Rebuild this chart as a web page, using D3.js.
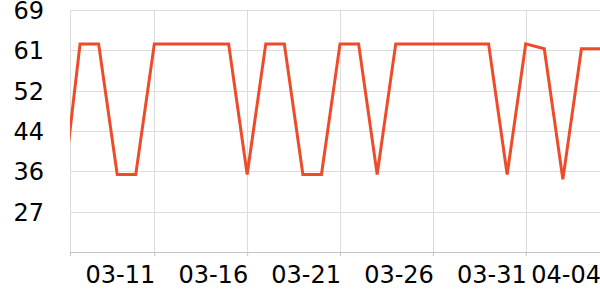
<!DOCTYPE html>
<html>
<head>
<meta charset="utf-8">
<script src="https://cdn.jsdelivr.net/npm/d3@7"></script>
<style>
  html, body { margin: 0; padding: 0; background: #fff; }
  svg text { font-family: "DejaVu Sans", sans-serif; font-size: 24px; fill: #000; }
  path.valueline { fill: none; stroke: #ee4b2b; stroke-width: 3px; stroke-linejoin: miter; }
</style>
</head>
<body>
<svg id="chart"></svg>
<script>
// daily values
var dates = ["2024-03-06", "2024-03-07", "2024-03-08", "2024-03-09", "2024-03-10",
  "2024-03-11", "2024-03-12", "2024-03-13", "2024-03-14", "2024-03-15",
  "2024-03-16", "2024-03-17", "2024-03-18", "2024-03-19", "2024-03-20",
  "2024-03-21", "2024-03-22", "2024-03-23", "2024-03-24", "2024-03-25",
  "2024-03-26", "2024-03-27", "2024-03-28", "2024-03-29", "2024-03-30",
  "2024-03-31", "2024-04-01", "2024-04-02", "2024-04-03", "2024-04-04"];
var values = [29, 62, 62, 35, 35,
  62, 62, 62, 62, 62,
  35, 62, 62, 35, 35,
  62, 62, 35, 62, 62,
  62, 62, 62, 62, 35,
  62, 61, 34, 61, 61];

// visible window and axis ticks
var viewStart = "2024-03-06T11:00";
var viewEnd = "2024-04-04T00:00";
var xTickDates = ["2024-03-11", "2024-03-16", "2024-03-21", "2024-03-26", "2024-03-31", "2024-04-04"];
var yDomain = [19, 69];
var yTickValues = [27.33, 35.67, 44, 52.33, 60.67, 69];

var width = 600, height = 300;
var margin = { top: 10, right: 0, bottom: 48, left: 70 };
var innerW = width - margin.left - margin.right;
var innerH = height - margin.top - margin.bottom;

var parseDay = d3.utcParse("%Y-%m-%d");
var parseTime = d3.utcParse("%Y-%m-%dT%H:%M");
var fmt = d3.utcFormat("%m-%d");

var data = dates.map(function (d, i) { return { date: parseDay(d), value: values[i] }; });

var svg = d3.select("#chart")
  .attr("width", width)
  .attr("height", height);

var g = svg.append("g")
  .attr("transform", "translate(" + margin.left + "," + margin.top + ")");

// set the ranges
var x = d3.scaleUtc()
  .domain([parseTime(viewStart), parseTime(viewEnd)])
  .range([0, innerW]);
var y = d3.scaleLinear().domain(yDomain).range([innerH, 0]);

// horizontal grid
g.append("g")
  .selectAll("line")
  .data(yTickValues)
  .enter().append("line")
  .attr("x1", 0).attr("x2", innerW)
  .attr("y1", function (d) { return Math.round(y(d)) + 0.5; })
  .attr("y2", function (d) { return Math.round(y(d)) + 0.5; })
  .attr("stroke", "#dcdcdc");

// vertical grid (skip the right-edge tick)
var gridDates = xTickDates.slice(0, -1).map(parseDay);
g.append("g")
  .selectAll("line")
  .data(gridDates)
  .enter().append("line")
  .attr("x1", function (d) { return Math.round(x(d)) + 0.5; })
  .attr("x2", function (d) { return Math.round(x(d)) + 0.5; })
  .attr("y1", 0).attr("y2", innerH)
  .attr("stroke", "#dcdcdc");

// left axis line
g.append("line")
  .attr("x1", 0.5).attr("x2", 0.5)
  .attr("y1", 0).attr("y2", innerH)
  .attr("stroke", "#dcdcdc");

// Y labels
g.append("g")
  .selectAll("text")
  .data(yTickValues)
  .enter().append("text")
  .attr("x", -26)
  .attr("y", function (d) { return y(d); })
  .attr("dy", "0.38em")
  .attr("text-anchor", "end")
  .text(function (d) { return d3.format(".0f")(d); });

// X axis
var xAxis = g.append("g")
  .attr("transform", "translate(0," + innerH + ")")
  .call(d3.axisBottom(x)
    .tickValues([x.domain()[0]].concat(gridDates))
    .tickSizeInner(4)
    .tickSizeOuter(0)
    .tickFormat(""));
xAxis.select(".domain").attr("stroke", "#c4c4c4");
xAxis.selectAll(".tick line").attr("stroke", "#c4c4c4");

g.append("g")
  .selectAll("text")
  .data(xTickDates.map(parseDay))
  .enter().append("text")
  .attr("x", function (d) { return x(d) + 1; })
  .attr("y", innerH + 31)
  .attr("text-anchor", "end")
  .text(function (d) { return fmt(d); });

// clip to plot area
svg.append("clipPath")
  .attr("id", "plot-clip")
  .append("rect")
  .attr("width", innerW).attr("height", innerH);

var valueline = d3.line()
  .x(function (d) { return x(d.date); })
  .y(function (d) { return y(d.value); });

g.append("path")
  .datum(data)
  .attr("class", "valueline")
  .attr("clip-path", "url(#plot-clip)")
  .attr("d", valueline);
</script>
</body>
</html>
